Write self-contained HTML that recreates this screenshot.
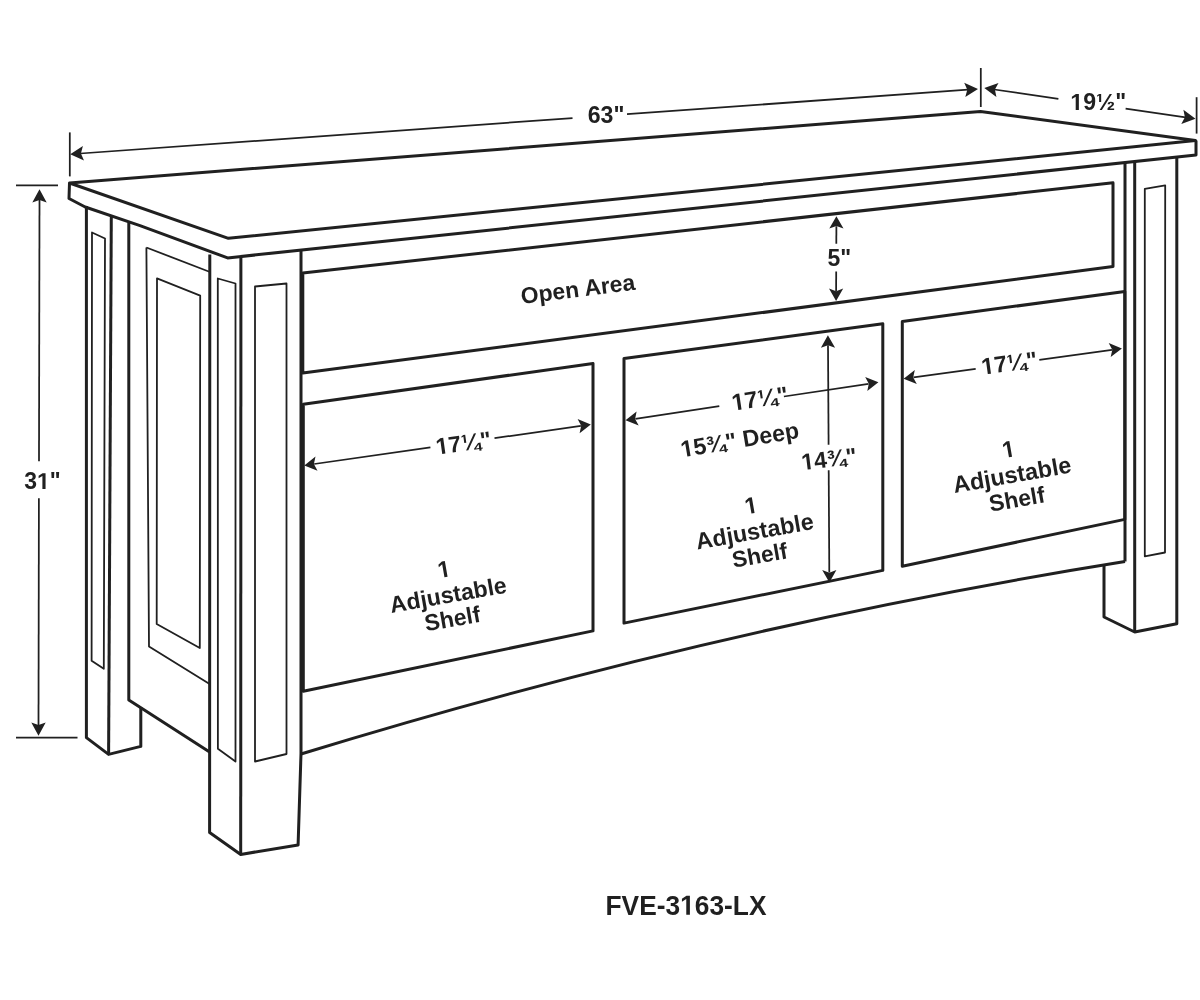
<!DOCTYPE html>
<html><head><meta charset="utf-8"><style>
html,body{margin:0;padding:0;background:#fff;}
body{width:1200px;height:1000px;overflow:hidden;}
svg{display:block;filter:grayscale(1);}
text{font-family:"Liberation Sans",sans-serif;font-weight:bold;fill:#231f20;text-anchor:middle;}
.ah{fill:#231f20;stroke:none;}
.g{fill-opacity:0;}
.gp{fill:#231f20;}
</style></head><body>
<svg width="1200" height="1000" viewBox="0 0 1200 1000">
<rect width="1200" height="1000" fill="#fff"/>
<g fill="none" stroke="#231f20" stroke-linejoin="round" stroke-linecap="butt">
<polygon points="69.5,183.0 980.5,111.5 1195.5,140.5 228.4,238.3" stroke-width="3.0"/>
<polyline points="69.5,183.0 69.0,198.5 85.2,207.0 140.0,225.6 227.6,257.9 1196.0,155.0 1196.0,140.5" stroke-width="3.0"/>
<polyline points="86.4,206.0 86.4,737.6 108.6,754.4 140.8,746.4 140.8,707.2" stroke-width="3.0"/>
<line x1="111.3" y1="216.0" x2="108.6" y2="754.4" stroke-width="3.0"/>
<polygon points="92.0,232.5 105.0,238.5 103.8,668.8 91.6,660.8" stroke-width="1.8"/>
<polyline points="128.8,222.5 128.8,700.0 209.6,752.0" stroke-width="3.0"/>
<polyline points="146.4,247.5 210.0,272.0" stroke-width="1.8"/>
<polyline points="146.4,247.5 149.0,646.4 209.6,684.0" stroke-width="1.8"/>
<polygon points="157.0,278.3 200.2,295.7 199.8,648.0 156.7,624.0" stroke-width="1.8"/>
<polyline points="209.8,254.5 209.6,832.5 240.7,854.4 298.1,845.0 301.0,753.5 301.0,250.5" stroke-width="3.0"/>
<line x1="240.9" y1="257.5" x2="240.7" y2="854.4" stroke-width="3.0"/>
<polygon points="217.8,278.5 235.5,283.5 235.5,761.6 217.9,748.8" stroke-width="1.8"/>
<polygon points="255.0,286.5 286.5,283.5 286.5,754.0 255.0,761.5" stroke-width="1.8"/>
<polygon points="302.8,273.0 1113.0,182.8 1113.0,266.4 302.8,373.1" stroke-width="3.0"/>
<polygon points="303.3,404.3 593.0,363.4 593.0,630.9 303.3,691.3" stroke-width="3.0"/>
<polygon points="624.0,358.4 882.8,323.8 882.8,570.4 624.0,623.1" stroke-width="3.0"/>
<polygon points="902.3,321.4 1124.8,291.5 1124.8,519.4 902.3,566.2" stroke-width="3.0"/>
<path d="M301,754 Q713,627.4 1125,561.6" stroke-width="3.0"/>
<line x1="1125.0" y1="163.0" x2="1125.0" y2="561.5" stroke-width="3.0"/>
<line x1="1134.7" y1="162.0" x2="1134.7" y2="632.0" stroke-width="3.0"/>
<polyline points="1104.0,566.0 1104.0,617.0 1134.7,632.0 1176.8,623.8 1176.8,157.8" stroke-width="3.0"/>
<polygon points="1144.8,188.8 1165.2,185.4 1165.0,552.5 1144.8,556.3" stroke-width="1.8"/>
<polygon class="ah" points="70.2,154.2 82.9,146.1 80.9,153.5 84.0,160.5"/>
<polygon class="ah" points="978.0,89.0 965.3,97.1 967.3,89.8 964.2,82.8"/>
<line x1="80.2" y1="153.5" x2="572.5" y2="118.1" stroke-width="1.75"/>
<line x1="627.0" y1="114.2" x2="968.0" y2="89.7" stroke-width="1.75"/>
<line x1="69.8" y1="132.4" x2="69.8" y2="176.4" stroke-width="1.75"/>
<line x1="980.8" y1="68.0" x2="980.8" y2="107.0" stroke-width="1.75"/>
<polygon class="ah" points="984.3,88.1 998.5,82.9 994.9,89.6 996.4,97.1"/>
<polygon class="ah" points="1195.5,118.8 1181.3,124.0 1184.9,117.3 1183.4,109.8"/>
<line x1="994.2" y1="89.5" x2="1058.4" y2="98.9" stroke-width="1.75"/>
<line x1="1125.6" y1="108.6" x2="1185.6" y2="117.4" stroke-width="1.75"/>
<line x1="1196.6" y1="97.2" x2="1196.6" y2="133.6" stroke-width="1.75"/>
<polygon class="ah" points="39.5,189.2 46.7,202.5 39.5,199.9 32.3,202.5"/>
<polygon class="ah" points="38.5,735.8 31.3,722.5 38.5,725.1 45.7,722.5"/>
<line x1="39.5" y1="199.2" x2="39.0" y2="461.3" stroke-width="1.75"/>
<line x1="38.9" y1="498.3" x2="38.5" y2="725.8" stroke-width="1.75"/>
<line x1="16.0" y1="185.3" x2="58.0" y2="185.3" stroke-width="1.75"/>
<line x1="16.0" y1="737.5" x2="77.5" y2="737.5" stroke-width="1.75"/>
<polygon class="ah" points="836.4,216.2 843.5,228.6 836.4,226.0 829.3,228.6"/>
<polygon class="ah" points="836.1,301.0 829.0,288.6 836.1,291.2 843.2,288.6"/>
<line x1="836.4" y1="226.2" x2="836.3" y2="243.8" stroke-width="1.75"/>
<line x1="836.2" y1="271.6" x2="836.1" y2="291.0" stroke-width="1.75"/>
<polygon class="ah" points="304.3,465.4 315.5,456.6 313.9,464.0 317.5,470.7"/>
<polygon class="ah" points="590.8,424.4 579.6,433.2 581.2,425.8 577.6,419.1"/>
<line x1="314.2" y1="464.0" x2="430.4" y2="447.4" stroke-width="1.75"/>
<line x1="494.5" y1="438.2" x2="580.9" y2="425.8" stroke-width="1.75"/>
<polygon class="ah" points="625.5,420.3 636.6,411.5 635.1,418.9 638.7,425.5"/>
<polygon class="ah" points="878.4,382.3 867.3,391.1 868.8,383.7 865.2,377.1"/>
<line x1="635.4" y1="418.8" x2="719.3" y2="406.2" stroke-width="1.75"/>
<line x1="783.9" y1="396.5" x2="868.5" y2="383.8" stroke-width="1.75"/>
<polygon class="ah" points="903.6,378.8 914.8,370.1 913.2,377.5 916.8,384.1"/>
<polygon class="ah" points="1121.9,348.4 1110.7,357.1 1112.3,349.7 1108.7,343.1"/>
<line x1="913.5" y1="377.4" x2="975.7" y2="368.8" stroke-width="1.75"/>
<line x1="1039.3" y1="359.9" x2="1112.0" y2="349.8" stroke-width="1.75"/>
<polygon class="ah" points="827.9,335.3 835.1,347.8 828.0,345.2 820.9,347.8"/>
<polygon class="ah" points="829.4,582.6 822.2,570.1 829.3,572.7 836.4,570.1"/>
<line x1="828.0" y1="345.3" x2="828.6" y2="444.8" stroke-width="1.75"/>
<line x1="828.7" y1="470.2" x2="829.3" y2="572.6" stroke-width="1.75"/>
</g>
<text transform="translate(606.00,122.80)" font-size="23.14">63"</text>
<text transform="translate(1098.25,109.93)" font-size="23.09"><tspan class="g">1</tspan>9<tspan class="g">½</tspan>"</text>
<path class="gp" transform="translate(1098.25,109.93) translate(-27.93,0.00) scale(0.01127,-0.01127)" d="M478 0V1170L140 959V1180L493 1409H759V0Z"/>
<path class="gp" transform="translate(1098.25,109.93) translate(-2.27,0.00) scale(0.01127,-0.01127)" d="M278 694V1283L105 1175V1297L285 1414H460V694ZM524 0H323L1218 1409H1419ZM1026 -1 1024 120Q1053 181 1106.0 233.5Q1159 286 1250 345Q1337 401 1369.0 437.5Q1401 474 1401 513Q1401 604 1320 604Q1235 604 1225 506L1031 511Q1044 610 1120.0 670.5Q1196 731 1320 731Q1451 731 1525.0 675.5Q1599 620 1599 521Q1599 396 1446 298Q1343 232 1304.5 201.0Q1266 170 1250 137H1612V-1Z"/>
<text transform="translate(42.50,489.05)" font-size="23.00">3<tspan class="g">1</tspan>"</text>
<path class="gp" transform="translate(42.50,489.05) translate(-5.47,0.00) scale(0.01123,-0.01123)" d="M478 0V1170L140 959V1180L493 1409H759V0Z"/>
<text transform="translate(839.25,266.30)" font-size="23.00">5"</text>
<text transform="translate(578.75,296.82) rotate(-7.20)" font-size="22.92">Open Area</text>
<text transform="translate(464.50,450.80) rotate(-7.96)" font-size="23.01"><tspan class="g">1</tspan>7<tspan class="g">¼</tspan>"</text>
<path class="gp" transform="translate(464.50,450.80) rotate(-7.96) translate(-27.84,0.00) scale(0.01124,-0.01124)" d="M478 0V1170L140 959V1180L493 1409H759V0Z"/>
<path class="gp" transform="translate(464.50,450.80) rotate(-7.96) translate(-2.26,0.00) scale(0.01124,-0.01124)" d="M278 694V1283L105 1175V1297L285 1414H460V694ZM544 0H343L1238 1409H1439ZM1712 -33V-177H1523V-33H1073V73L1491 529H1712V72H1844V-33ZM1523 303Q1524 309 1530 402Q1495 354 1464 321L1234 72H1523Z"/>
<text transform="translate(761.00,406.55) rotate(-8.40)" font-size="23.44"><tspan class="g">1</tspan>7<tspan class="g">¼</tspan>"</text>
<path class="gp" transform="translate(761.00,406.55) rotate(-8.40) translate(-28.37,0.00) scale(0.01145,-0.01145)" d="M478 0V1170L140 959V1180L493 1409H759V0Z"/>
<path class="gp" transform="translate(761.00,406.55) rotate(-8.40) translate(-2.30,0.00) scale(0.01145,-0.01145)" d="M278 694V1283L105 1175V1297L285 1414H460V694ZM544 0H343L1238 1409H1439ZM1712 -33V-177H1523V-33H1073V73L1491 529H1712V72H1844V-33ZM1523 303Q1524 309 1530 402Q1495 354 1464 321L1234 72H1523Z"/>
<text transform="translate(1010.25,371.05) rotate(-7.69)" font-size="23.18"><tspan class="g">1</tspan>7<tspan class="g">¼</tspan>"</text>
<path class="gp" transform="translate(1010.25,371.05) rotate(-7.69) translate(-28.05,0.00) scale(0.01132,-0.01132)" d="M478 0V1170L140 959V1180L493 1409H759V0Z"/>
<path class="gp" transform="translate(1010.25,371.05) rotate(-7.69) translate(-2.28,0.00) scale(0.01132,-0.01132)" d="M278 694V1283L105 1175V1297L285 1414H460V694ZM544 0H343L1238 1409H1439ZM1712 -33V-177H1523V-33H1073V73L1491 529H1712V72H1844V-33ZM1523 303Q1524 309 1530 402Q1495 354 1464 321L1234 72H1523Z"/>
<text transform="translate(741.00,447.55) rotate(-9.50)" font-size="23.24"><tspan class="g">1</tspan>5¾" Deep</text>
<path class="gp" transform="translate(741.00,447.55) rotate(-9.50) translate(-59.76,0.00) scale(0.01135,-0.01135)" d="M478 0V1170L140 959V1180L493 1409H759V0Z"/>
<text transform="translate(830.00,466.80) rotate(-7.00)" font-size="23.00"><tspan class="g">1</tspan>4¾"</text>
<path class="gp" transform="translate(830.00,466.80) rotate(-7.00) translate(-27.84,0.00) scale(0.01123,-0.01123)" d="M478 0V1170L140 959V1180L493 1409H759V0Z"/>
<text transform="translate(445.47,577.05) rotate(-10.00)" font-size="23.00"><tspan class="g">1</tspan></text>
<path class="gp" transform="translate(445.47,577.05) rotate(-10.00) translate(-6.40,0.00) scale(0.01123,-0.01123)" d="M478 0V1170L140 959V1180L493 1409H759V0Z"/>
<text transform="translate(449.50,602.70) rotate(-10.00)" font-size="23.13">Adjustable</text>
<text transform="translate(453.75,626.45) rotate(-10.00)" font-size="23.02">Shelf</text>
<text transform="translate(752.47,513.30) rotate(-10.00)" font-size="23.00"><tspan class="g">1</tspan></text>
<path class="gp" transform="translate(752.47,513.30) rotate(-10.00) translate(-6.40,0.00) scale(0.01123,-0.01123)" d="M478 0V1170L140 959V1180L493 1409H759V0Z"/>
<text transform="translate(756.00,539.20) rotate(-10.00)" font-size="23.33">Adjustable</text>
<text transform="translate(761.00,562.95) rotate(-10.00)" font-size="22.76">Shelf</text>
<text transform="translate(1009.97,457.05) rotate(-10.00)" font-size="23.00"><tspan class="g">1</tspan></text>
<path class="gp" transform="translate(1009.97,457.05) rotate(-10.00) translate(-6.40,0.00) scale(0.01123,-0.01123)" d="M478 0V1170L140 959V1180L493 1409H759V0Z"/>
<text transform="translate(1013.50,482.70) rotate(-10.00)" font-size="23.41">Adjustable</text>
<text transform="translate(1018.25,506.95) rotate(-10.00)" font-size="23.02">Shelf</text>
<text transform="translate(686.00,914.77) scale(1,1.056)" font-size="26.33">FVE-3<tspan class="g">1</tspan>63-LX</text>
<path class="gp" transform="translate(686.00,914.77) scale(1,1.056) translate(-5.87,0.00) scale(0.01286,-0.01286)" d="M478 0V1170L140 959V1180L493 1409H759V0Z"/>
</svg>
</body></html>
